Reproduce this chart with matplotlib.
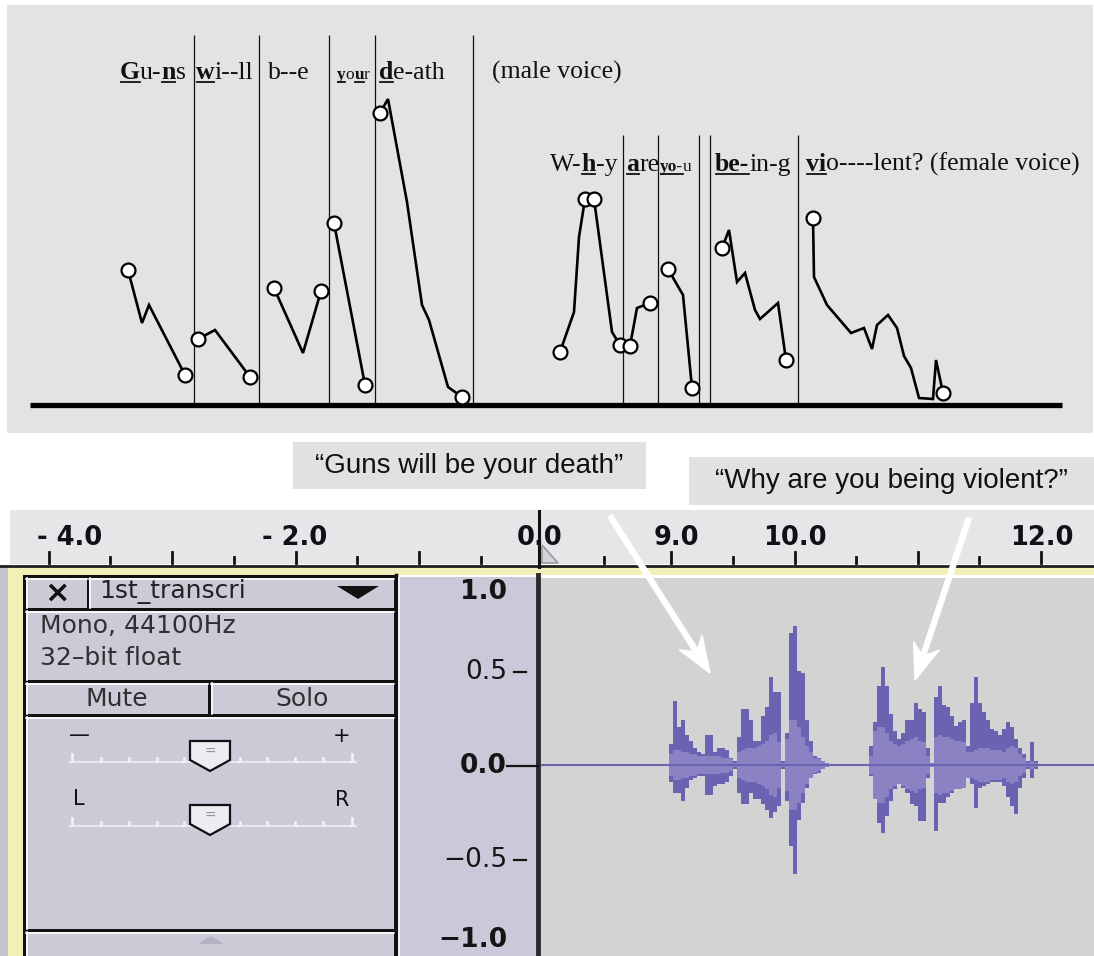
import matplotlib
matplotlib.use('Agg')
import numpy as np
import matplotlib.pyplot as plt
from matplotlib.patches import Rectangle, Polygon, FancyArrow

W, H = 1094, 956

# --- pitch contours (time along the panel, pitch above the baseline) ---
guns_t = [128, 142, 149, 185]
guns_p = [135, 82, 100, 30]
will_t = [198, 215, 250]
will_p = [66, 75, 28]
be_t = [274, 303, 321]
be_p = [117, 52, 114]
your_t = [334, 365]
your_p = [182, 20]
death_t = [380, 388, 407, 408, 422, 429, 448, 462]
death_p = [292, 306, 203, 196, 100, 85, 18, 8]
why_t = [560, 574, 579, 585, 594, 612, 620]
why_p = [53, 93, 168, 206, 206, 73, 60]
are_t = [630, 637, 650]
are_p = [59, 97, 102]
you_t = [668, 683, 692]
you_p = [136, 110, 17]
being_t = [722, 729, 737, 745, 755, 760, 778, 786]
being_p = [157, 175, 123, 132, 95, 86, 102, 45]
violent_t = [813, 814, 827, 851, 864, 872, 877, 888, 897, 904, 911, 919, 933, 936, 943]
violent_p = [187, 128, 100, 72, 77, 56, 80, 90, 77, 49, 37, 7, 6, 45, 12]

circle_t = [128, 185, 198, 250, 274, 321, 334, 365, 380, 462,
            560, 585, 594, 620, 630, 650, 668, 692, 722, 786, 813, 943]
circle_p = [135, 30, 66, 28, 117, 114, 182, 20, 292, 8,
            53, 206, 206, 60, 59, 102, 136, 17, 157, 45, 187, 12]

male_bounds = [194, 259, 329, 375, 473]
female_bounds = [623, 658, 699, 710, 798]

# word labels: (x, parts, size) ; parts = (text, bold+underlined)
male_words = [
    (120, [("G", True), ("u-", False), ("n", True), ("s", False)], 18.5),
    (196, [("w", True), ("i--ll", False)], 18.5),
    (268, [("b--e", False)], 18.5),
    (337, [("y", True), ("o", False), ("u", True), ("r", False)], 12.5),
    (379, [("d", True), ("e-ath", False)], 18.5),
    (492, [("(male voice)", False)], 18.5),
]
female_words = [
    (550, [("W-", False), ("h", True), ("-y", False)], 18.5),
    (626, [("a", True), ("re", False)], 18.5),
    (660, [("yo-", True), ("u", False)], 12.5),
    (715, [("be-", True), ("in-g", False)], 18.5),
    (806, [("vi", True), ("o----lent? (female voice)", False)], 18.5),
]

quotes = ["\u201cGuns will be your death\u201d", "\u201cWhy are you being violent?\u201d"]

# --- waveform envelope, one value per display column ---
wave_t0 = 8.984
wave_dt = 0.0323
top1 = [0.11, 0.34, 0.20, 0.24, 0.16, 0.13, 0.09, 0.07, 0.06, 0.16, 0.16, 0.07, 0.09, 0.09, 0.08, 0.04]
bot1 = [-0.09, -0.15, -0.15, -0.19, -0.12, -0.08, -0.07, -0.06, -0.06, -0.16, -0.16, -0.11, -0.10, -0.10, -0.09, -0.06]
rms1 = [0.06, 0.08, 0.08, 0.07, 0.07, 0.06, 0.06, 0.05, 0.05, 0.05, 0.05, 0.05, 0.05, 0.04, 0.04, 0.03]
top2 = [0.02, 0.15, 0.30, 0.30, 0.24, 0.13, 0.13, 0.26, 0.31, 0.47, 0.39, 0.39, 0.02]
bot2 = [-0.02, -0.15, -0.21, -0.21, -0.15, -0.18, -0.18, -0.21, -0.24, -0.28, -0.25, -0.22, -0.02]
rms2 = [0.01, 0.07, 0.08, 0.09, 0.09, 0.09, 0.10, 0.11, 0.13, 0.16, 0.17, 0.12, 0.01]
top3 = [0.17, 0.70, 0.74, 0.50, 0.49, 0.24, 0.13, 0.05, 0.04, 0.02, 0.01]
bot3 = [-0.19, -0.43, -0.58, -0.29, -0.20, -0.12, -0.05, -0.05, -0.04, -0.02, -0.01]
rms3 = [0.14, 0.24, 0.24, 0.20, 0.15, 0.10, 0.07, 0.04, 0.03, 0.02, 0.01]
silence = [0.0] * 10
top4 = [0.10, 0.23, 0.42, 0.52, 0.42, 0.27, 0.18, 0.14, 0.17, 0.24, 0.24, 0.33, 0.30, 0.28,
        0.09, 0.01, 0.36, 0.42, 0.32, 0.31, 0.26, 0.21, 0.23, 0.24, 0.10, 0.33, 0.47, 0.33,
        0.28, 0.24, 0.19, 0.18, 0.16, 0.19, 0.23, 0.20, 0.14, 0.09, 0.06, 0.02, 0.12, 0.02]
bot4 = [-0.06, -0.16, -0.31, -0.36, -0.27, -0.19, -0.13, -0.10, -0.12, -0.15, -0.21, -0.22, -0.30, -0.30,
        -0.07, -0.01, -0.35, -0.20, -0.20, -0.17, -0.15, -0.13, -0.12, -0.11, -0.05, -0.10, -0.23, -0.12,
        -0.11, -0.10, -0.09, -0.09, -0.09, -0.11, -0.17, -0.22, -0.26, -0.12, -0.07, -0.02, -0.07, -0.02]
rms4 = [0.05, 0.18, 0.20, 0.20, 0.17, 0.13, 0.11, 0.10, 0.11, 0.13, 0.14, 0.15, 0.13, 0.12,
        0.05, 0.01, 0.15, 0.16, 0.15, 0.15, 0.14, 0.13, 0.13, 0.12, 0.07, 0.07, 0.08, 0.09,
        0.09, 0.09, 0.08, 0.08, 0.08, 0.07, 0.09, 0.10, 0.09, 0.06, 0.04, 0.01, 0.02, 0.01]

# --- time ruler ---
ruler_labels = ["- 4.0", "- 2.0", "0.0", "9.0", "10.0", "12.0"]
ruler_label_x = [70, 295, 540, 676, 795, 1042]
ruler_major = [49, 172, 296, 419, 671, 795, 918, 1041]
ruler_minor = [110, 234, 357, 481, 604, 733, 856, 979]

amp_labels = ["1.0", "0.5", "0.0", "\u22120.5", "\u22121.0"]
amp_label_y = [592, 672, 766, 860, 940]
amp_bold = [True, False, True, False, True]

fig = plt.figure(figsize=(W / 100, H / 100), dpi=100)
ax = fig.add_axes([0, 0, 1, 1])
ax.set_xlim(0, W)
ax.set_ylim(H, 0)
ax.set_axis_off()
r = fig.canvas.get_renderer()

serif = ['Liberation Serif', 'DejaVu Serif']
ui = ['DejaVu Sans']


def rect(x, y, w, h, fc, ec='none', lw=0, z=1):
    ax.add_patch(Rectangle((x, y), w, h, facecolor=fc, edgecolor=ec, lw=lw, zorder=z))


def rich(x, y, parts, size):
    for s, bold in parts:
        t = ax.text(x, y, s, fontsize=size, family=serif, fontweight='bold' if bold else 'normal',
                    va='baseline', ha='left', color='#111111', zorder=5)
        w = t.get_window_extent(r).width
        if bold:
            ax.plot([x + 0.5, x + w - 0.5], [y + 2.5, y + 2.5], color='#111111', lw=1.3, zorder=5)
        x += w


# top panel
rect(7, 5, 1086, 428, '#e3e3e3')
for x, parts, size in male_words:
    rich(x, 79, parts, size)
for x, parts, size in female_words:
    rich(x, 171, parts, size)

# quote boxes
rect(293, 442, 353, 47, '#e1e1e1')
rect(689, 457, 405, 48, '#e1e1e1')
qfont = ['Liberation Sans Narrow', 'Liberation Sans', 'DejaVu Sans']
ax.text(469, 466, quotes[0], fontsize=20, family=qfont, ha='center', va='center', color='#111111')
ax.text(891, 481, quotes[1], fontsize=20, family=qfont, ha='center', va='center', color='#111111')

# time ruler
rect(10, 510, 1084, 54, '#e6e6e8')
for x in ruler_major:
    ax.plot([x, x], [552, 563], color='#111111', lw=2)
for x in ruler_minor:
    ax.plot([x, x], [557, 563], color='#111111', lw=2)
for s, x in zip(ruler_labels, ruler_label_x):
    ax.text(x, 538, s, fontsize=18.5, family=ui, fontweight='bold', ha='center', va='center', color='#101018')
ax.add_patch(Polygon([(542, 545), (558, 563), (542, 563)], closed=True, facecolor='#d4d4d8',
                     edgecolor='#9a9aa0', lw=1.2, zorder=3))
ax.plot([539, 539], [511, 567], color='#111111', lw=2.2, zorder=4)
ax.plot([0, W], [565.5, 565.5], color='#202020', lw=2)
rect(8, 567, W - 8, 8, '#f0f0b8')
rect(0, 567, 8, H - 567, '#c4c4cc')
rect(8, 567, 15, H - 567, '#f0f0b8')

# track control panel
rect(23, 575, 374, H - 575, '#111111')
boxes = [(26, 578, 61, 30), (89, 578, 305, 30), (26, 611, 368, 69), (26, 683, 182, 31),
         (211, 683, 183, 31), (26, 717, 368, 212), (26, 932, 368, 30)]
for bx, by, bw, bh in boxes:
    rect(bx, by, bw, bh, '#cbcbd8')
    ax.plot([bx, bx + bw], [by + 1, by + 1], color='white', lw=1.2, zorder=2)
    ax.plot([bx + 1, bx + 1], [by, by + bh], color='white', lw=1.2, zorder=2)
ax.text(57, 593, "\u00d7", fontsize=22, family=ui, fontweight='bold', ha='center', va='center', color='#111111')
ax.text(99, 592, "1st_transcri", fontsize=18, family=ui, ha='left', va='center', color='#222222')
ax.add_patch(Polygon([(337, 586), (379, 586), (358, 599)], closed=True, facecolor='#111111', zorder=3))
ax.text(40, 626, "Mono, 44100Hz", fontsize=18, family=ui, ha='left', va='center', color='#303030')
ax.text(40, 658, "32\u2013bit float", fontsize=18, family=ui, ha='left', va='center', color='#303030')
ax.text(117, 699, "Mute", fontsize=18, family=ui, ha='center', va='center', color='#303030')
ax.text(302, 699, "Solo", fontsize=18, family=ui, ha='center', va='center', color='#303030')

slider_ticks = [72, 101, 129, 157, 184, 240, 267, 295, 323, 352]
for ty, lab_l, lab_r in [(762, "\u2014", "+"), (826, "L", "R")]:
    ax.plot([70, 356], [ty, ty], color='#e8e8f0', lw=1.5, zorder=2)
    for i, tx in enumerate(slider_ticks):
        hh = 8 if i in (0, len(slider_ticks) - 1) else 4
        ax.plot([tx, tx], [ty - hh, ty - 1], color='#f0f0f4', lw=2, zorder=2)
    ax.text(79, ty - 27, lab_l, fontsize=15, family=ui, ha='center', va='center', color='#111111')
    ax.text(342, ty - 26, lab_r, fontsize=15, family=ui, ha='center', va='center', color='#111111')
    ax.add_patch(Polygon([(190, ty - 21), (230, ty - 21), (230, ty - 2), (210, ty + 9), (190, ty - 2)],
                         closed=True, facecolor='#ececf2', edgecolor='#111111', lw=1.6, zorder=3))
    ax.text(210, ty - 10, "=", fontsize=10, family=ui, ha='center', va='center', color='#9090a0', zorder=4)
ax.add_patch(Polygon([(198, 944), (224, 944), (211, 936)], closed=True, facecolor='#b2b2c2', zorder=3))

# amplitude ruler
rect(397, 577, 140, H - 577, '#c9c9d9')
ax.plot([396, 396], [575, H], color='#111111', lw=2.5)
ax.plot([398.5, 398.5], [578, H], color='white', lw=1.2)
ax.plot([538, 538], [575, H], color='#2a2a2a', lw=3.5)
for s, y, b in zip(amp_labels, amp_label_y, amp_bold):
    ax.text(507, y, s, fontsize=19, family=ui, fontweight='bold' if b else 'normal',
            ha='right', va='center', color='#151515')
ax.plot([514, 526], [672, 672], color='#151515', lw=1.6)
ax.plot([514, 526], [860, 860], color='#151515', lw=1.6)
ax.plot([507, 538], [766, 766], color='#151515', lw=1.6)

# pitch axes
axp = fig.add_axes([0, 1 - 440 / H, 1, 440 / H])
axp.set_xlim(0, W)
axp.set_ylim(-35, 405)
axp.set_axis_off()
axp.patch.set_alpha(0)
axp.vlines(male_bounds, 0, 370, color='#111111', lw=0.9)
axp.vlines(female_bounds, 0, 270, color='#111111', lw=0.9)
axp.hlines(0, 30, 1062, color='#000000', lw=3.8)
contours = [(guns_t, guns_p), (will_t, will_p), (be_t, be_p), (your_t, your_p), (death_t, death_p),
            (why_t, why_p), (are_t, are_p), (you_t, you_p), (being_t, being_p), (violent_t, violent_p)]
for t, p in contours:
    axp.plot(t, p, color='#000000', lw=1.9, solid_joinstyle='miter')
axp.plot(circle_t, circle_p, 'o', ms=10, mfc='white', mec='#000000', mew=1.6, ls='none')

# waveform axes
axw = fig.add_axes([541 / W, 0, (W - 541) / W, (H - 578) / H])
axw.set_facecolor('#d3d3d3')
axw.set_xlim(7.95, 12.41)
axw.set_ylim(-1.016, 0.995)
for sp in axw.spines.values():
    sp.set_visible(False)
axw.set_xticks([])
axw.set_yticks([])
top = np.concatenate([top1, top2, top3, silence, top4])
bot = np.concatenate([bot1, bot2, bot3, silence, bot4])
rms = np.concatenate([rms1, rms2, rms3, silence, rms4])
edges = wave_t0 + wave_dt * np.arange(len(top) + 1)
axw.axhline(0, color='#6a63b2', lw=1.5)
axw.stairs(top, edges, baseline=bot, fill=True, color='#6a63b2')
axw.stairs(rms, edges, baseline=-rms, fill=True, color='#8a82c2')

# arrows on top of everything
axa = fig.add_axes([0, 0, 1, 1])
axa.set_xlim(0, W)
axa.set_ylim(H, 0)
axa.set_axis_off()
axa.patch.set_alpha(0)
axa.add_patch(FancyArrow(610, 516, 100, 157, width=5, head_width=27, head_length=36,
                         length_includes_head=True, overhang=0.25, color='white'))
axa.add_patch(FancyArrow(969, 518, -54, 162, width=5, head_width=27, head_length=36,
                         length_includes_head=True, overhang=0.25, color='white'))

fig.savefig('out.png', dpi=100, facecolor='white')
